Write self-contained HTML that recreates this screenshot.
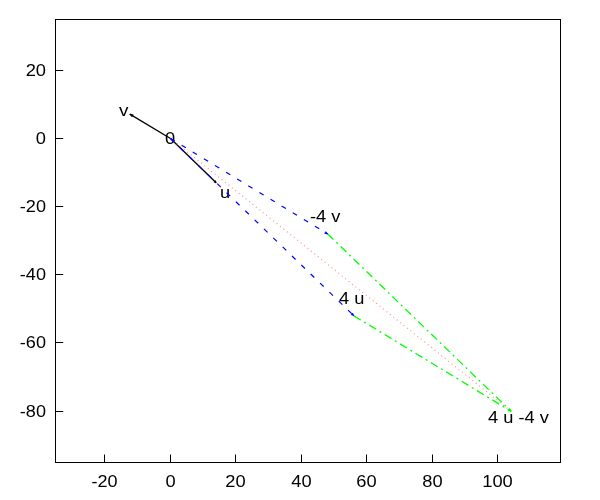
<!DOCTYPE html>
<html><head><meta charset="utf-8"><title>plot</title>
<style>
html,body{margin:0;padding:0;background:#fff;}
body{width:600px;height:500px;overflow:hidden;}
svg{display:block;will-change:transform;}
text{font-family:"Liberation Sans",sans-serif;font-size:16.3px;fill:#000;}
</style></head><body>
<svg width="600" height="500" viewBox="0 0 600 500">
<rect x="0" y="0" width="600" height="500" fill="#ffffff"/>

<text x="25.65" y="75.80" textLength="20.35" lengthAdjust="spacingAndGlyphs">20</text>
<text x="35.82" y="143.80" textLength="10.18" lengthAdjust="spacingAndGlyphs">0</text>
<text x="19.87" y="211.80" textLength="26.13" lengthAdjust="spacingAndGlyphs">-20</text>
<text x="19.87" y="279.80" textLength="26.13" lengthAdjust="spacingAndGlyphs">-40</text>
<text x="19.87" y="347.80" textLength="26.13" lengthAdjust="spacingAndGlyphs">-60</text>
<text x="19.87" y="416.80" textLength="26.13" lengthAdjust="spacingAndGlyphs">-80</text>
<text x="91.44" y="487.00" textLength="26.13" lengthAdjust="spacingAndGlyphs">-20</text>
<text x="165.41" y="487.00" textLength="10.18" lengthAdjust="spacingAndGlyphs">0</text>
<text x="225.32" y="487.00" textLength="20.35" lengthAdjust="spacingAndGlyphs">20</text>
<text x="291.32" y="487.00" textLength="20.35" lengthAdjust="spacingAndGlyphs">40</text>
<text x="356.32" y="487.00" textLength="20.35" lengthAdjust="spacingAndGlyphs">60</text>
<text x="422.32" y="487.00" textLength="20.35" lengthAdjust="spacingAndGlyphs">80</text>
<text x="482.24" y="487.00" textLength="30.53" lengthAdjust="spacingAndGlyphs">100</text>
<path d="M55.5 70.5H63.2M55.5 138.5H63.2M55.5 206.5H63.2M55.5 274.5H63.2M55.5 342.5H63.2M55.5 411.5H63.2M104.5 462.5V454.5M170.5 462.5V454.5M235.5 462.5V454.5M301.5 462.5V454.5M366.5 462.5V454.5M432.5 462.5V454.5M497.5 462.5V454.5" stroke="#000" stroke-width="1" fill="none"/>
<text x="119.00" y="116.00" textLength="9.47" lengthAdjust="spacingAndGlyphs">v</text>
<text x="165.00" y="144.00" textLength="10.18" lengthAdjust="spacingAndGlyphs">0</text>
<text x="220.00" y="197.80" textLength="10.14" lengthAdjust="spacingAndGlyphs">u</text>
<text x="310.00" y="222.00" textLength="30.51" lengthAdjust="spacingAndGlyphs">-4 v</text>
<text x="339.10" y="304.00" textLength="25.41" lengthAdjust="spacingAndGlyphs">4 u</text>
<text x="488.00" y="422.70" textLength="61.01" lengthAdjust="spacingAndGlyphs">4 u -4 v</text>
<line x1="170.50" y1="138.50" x2="216.20" y2="182.80" stroke="#000" stroke-width="1.3"/>
<line x1="170.50" y1="138.50" x2="129.80" y2="114.10" stroke="#000" stroke-width="1.3"/>
<polygon points="216.20,182.80 215.46,180.52 213.89,182.13" fill="#000" stroke="#000" stroke-width="0.5" stroke-linejoin="miter"/>
<polygon points="129.80,114.10 132.07,116.90 133.33,114.78" fill="#000" stroke="#000" stroke-width="0.5" stroke-linejoin="miter"/>
<line x1="170.50" y1="138.50" x2="511.10" y2="411.30" stroke="#ff8c8c" stroke-width="1.2" stroke-dasharray="1 3.4" stroke-dashoffset="0.5"/>
<line x1="170.50" y1="138.50" x2="353.90" y2="315.82" stroke="#0000ff" stroke-width="1.2" stroke-dasharray="5 8"/>
<line x1="170.50" y1="138.50" x2="327.70" y2="233.98" stroke="#0000ff" stroke-width="1.2" stroke-dasharray="5 8"/>
<polygon points="353.90,315.82 352.59,313.12 351.16,314.60" fill="#0000ff" stroke="#0000ff" stroke-width="0.8" stroke-linejoin="miter"/>
<polygon points="327.70,233.98 325.82,231.64 324.76,233.39" fill="#0000ff" stroke="#0000ff" stroke-width="0.8" stroke-linejoin="miter"/>
<line x1="327.70" y1="233.98" x2="511.10" y2="411.30" stroke="#00ff00" stroke-width="1.3" stroke-dasharray="8 4 2 4"/>
<line x1="353.90" y1="315.82" x2="511.10" y2="411.30" stroke="#00ff00" stroke-width="1.3" stroke-dasharray="8 4 2 4"/>
<polygon points="511.10,411.30 509.10,408.80 507.96,410.67" fill="#00ff00" stroke="#00ff00" stroke-width="0.8" stroke-linejoin="miter"/>
<polygon points="511.10,411.30 509.70,408.42 508.18,410.00" fill="#00ff00" stroke="#00ff00" stroke-width="0.8" stroke-linejoin="miter"/>
<rect x="55.5" y="19.5" width="505" height="443" fill="none" stroke="#000" stroke-width="1"/>
</svg></body></html>
